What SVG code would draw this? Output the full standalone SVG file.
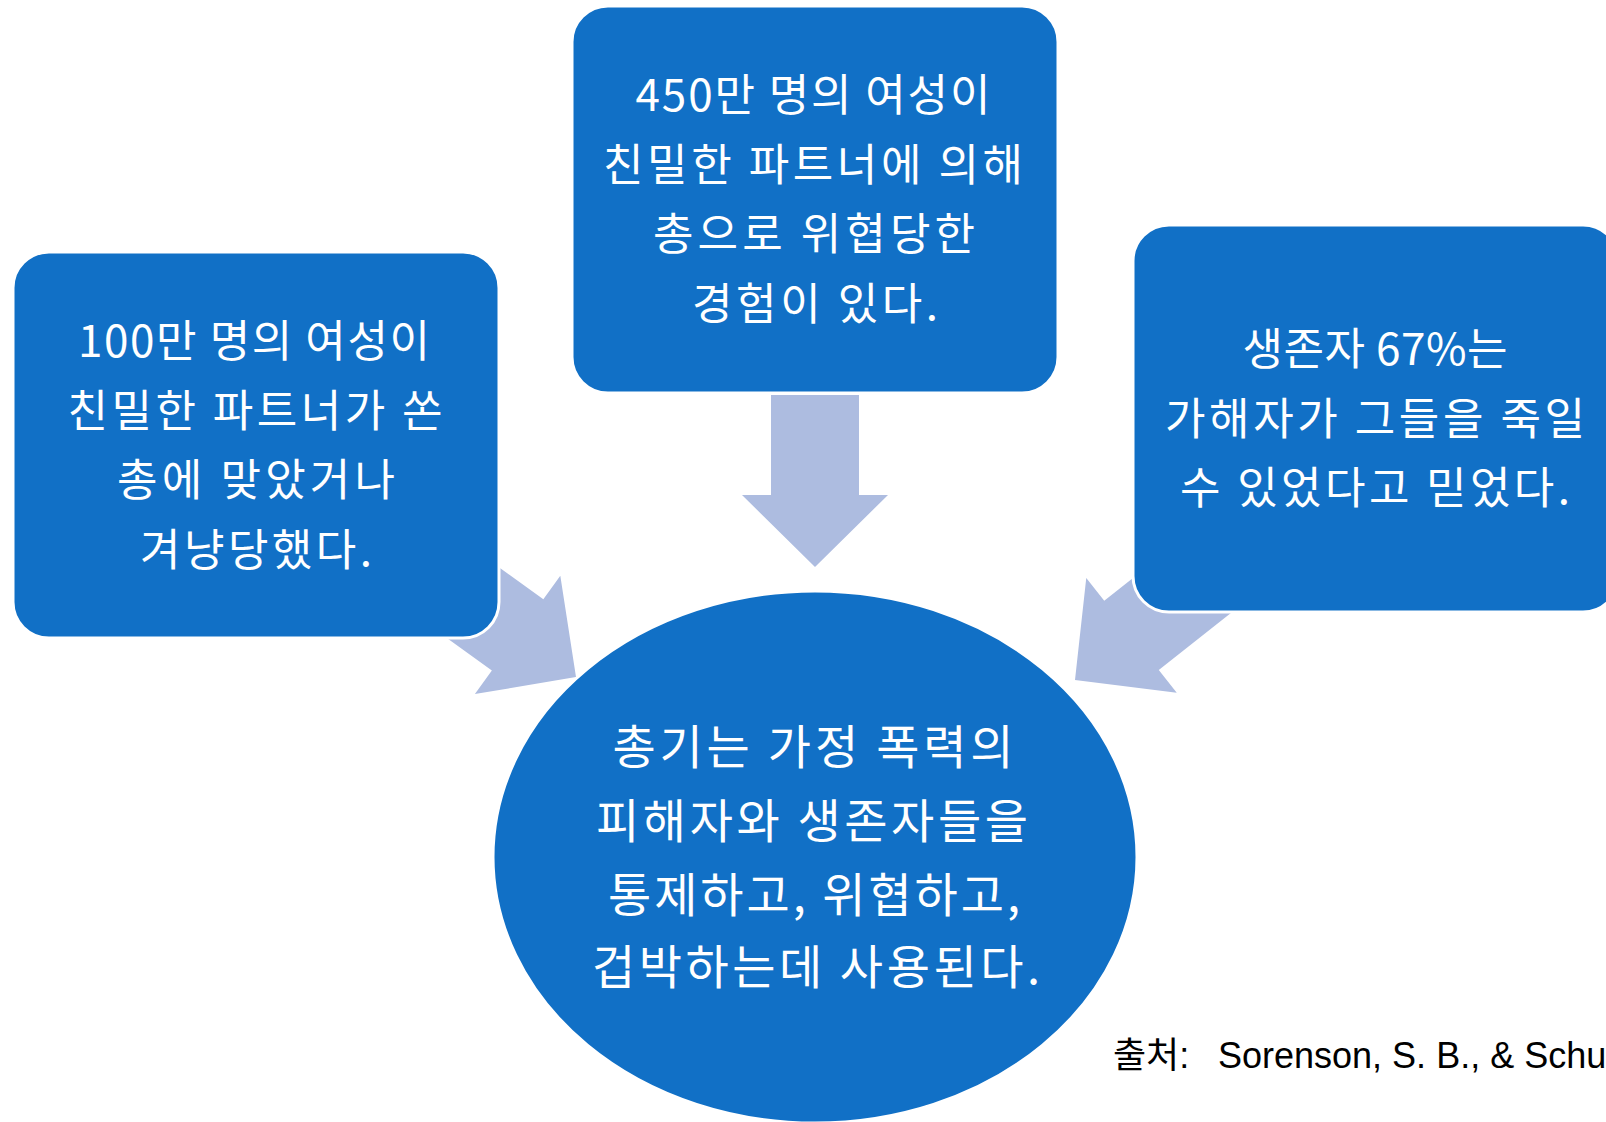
<svg xmlns="http://www.w3.org/2000/svg" width="1606" height="1122" viewBox="0 0 1606 1122">
  <style>
    .node { fill: #1170C6; stroke: #FFFFFF; stroke-width: 3; }
    .arrow { fill: #ADBCE0; stroke: none; }
    .t { fill: #FFFFFF; font-family: "Noto Sans CJK KR", "Noto Sans", sans-serif; font-size: 44px; text-anchor: middle; }
    .te { fill: #FFFFFF; font-family: "Noto Sans CJK KR", "Noto Sans", sans-serif; font-size: 47px; text-anchor: middle; }
    .cite { fill: #000000; font-family: "Liberation Sans", "Noto Sans CJK KR", sans-serif; font-size: 36px; }
  </style>
  <defs>
    <path id="arr" d="M -44,-172 L 44,-172 L 44,-72 L 73,-72 L 0,0 L -73,-72 L -44,-72 Z"/>
  </defs>
  <rect width="1606" height="1122" fill="#FFFFFF"/>

  <g id="connectors">
    <use href="#arr" class="arrow" transform="translate(815,567)"/>
    <use href="#arr" class="arrow" transform="translate(576,677) rotate(-54.2)"/>
    <use href="#arr" class="arrow" transform="translate(1075,680) rotate(51.7)"/>
  </g>

  <g id="node-left">
    <rect class="node" x="13" y="252" width="486" height="386" rx="36" ry="36"/>
    <text class="t" x="254" y="357" textLength="352" lengthAdjust="spacing">100만 명의 여성이</text>
    <text class="t" x="255" y="427" textLength="375" lengthAdjust="spacing">친밀한 파트너가 쏜</text>
    <text class="t" x="256" y="496" textLength="278" lengthAdjust="spacing">총에 맞았거나</text>
    <text class="t" x="256" y="566" textLength="232" lengthAdjust="spacing">겨냥당했다.</text>
  </g>

  <g id="node-top">
    <rect class="node" x="572" y="6" width="486" height="387" rx="36" ry="36"/>
    <text class="t" x="813" y="111" textLength="355" lengthAdjust="spacing">450만 명의 여성이</text>
    <text class="t" x="813" y="181" textLength="420" lengthAdjust="spacing">친밀한 파트너에 의해</text>
    <text class="t" x="814" y="250" textLength="322" lengthAdjust="spacing">총으로 위협당한</text>
    <text class="t" x="815" y="320" textLength="246" lengthAdjust="spacing">경험이 있다.</text>
  </g>

  <g id="node-right">
    <rect class="node" x="1133" y="225" width="486" height="387" rx="36" ry="36"/>
    <text class="t" x="1375" y="365" textLength="265" lengthAdjust="spacing">생존자 67%는</text>
    <text class="t" x="1375" y="435" textLength="420" lengthAdjust="spacing">가해자가 그들을 죽일</text>
    <text class="t" x="1375" y="504" textLength="390" lengthAdjust="spacing">수 있었다고 믿었다.</text>
  </g>

  <g id="node-center">
    <ellipse class="node" cx="815" cy="857" rx="322" ry="266"/>
    <text class="te" x="813" y="764" textLength="401" lengthAdjust="spacing">총기는 가정 폭력의</text>
    <text class="te" x="812" y="838" textLength="432" lengthAdjust="spacing">피해자와 생존자들을</text>
    <text class="te" x="814" y="912" textLength="412" lengthAdjust="spacing">통제하고, 위협하고,</text>
    <text class="te" x="816" y="984" textLength="448" lengthAdjust="spacing">겁박하는데 사용된다.</text>
  </g>

  <g id="citation">
    <text class="cite" x="1113" y="1068">출처:<tspan x="1218">Sorenson, S. B., &amp; Schu</tspan></text>
  </g>
</svg>
